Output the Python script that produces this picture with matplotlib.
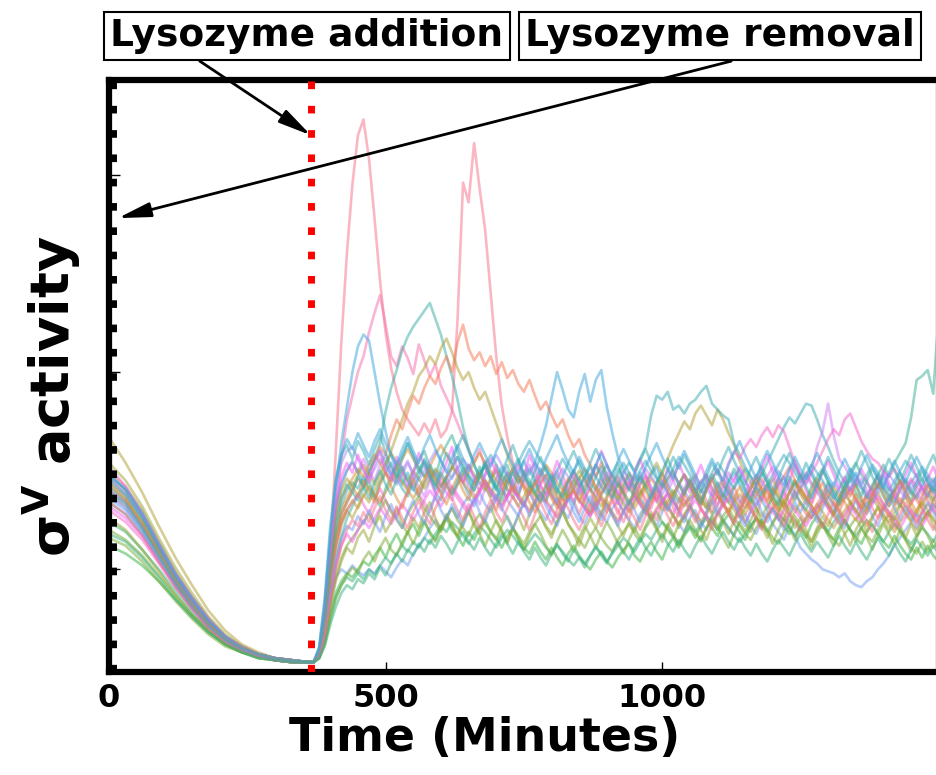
import matplotlib
matplotlib.use("Agg")
import matplotlib.pyplot as plt
import seaborn as sns

# ---------------- data ----------------
# sampling times (minutes): coarse before the lysozyme step, fine afterwards
time_pre = list(range(0, 361, 30))          # 13 samples
time_post = list(range(370, 1501, 10))      # 114 samples
time_min = time_pre + time_post

addition_time = 365
removal_time = 8

sv_01 = [88,82,71,58,45,34,24,16,11,7,5,4,3,
         3,8,25,60,110,165,210,245,270,278,
         258,228,196,170,152,140,131,126,122,118,
         124,119,126,117,121,130,176,246,236,266,
         243,222,190,158,133,117,104,97,93,88,
         95,86,84,93,87,80,89,85,78,86,
         91,82,77,86,92,84,80,75,85,90,
         84,79,75,84,89,81,77,83,86,88,
         80,77,85,90,84,79,74,83,88,82,
         77,86,91,84,80,75,84,89,83,78,
         76,83,88,81,77,85,90,84,79,84,
         88,81,76,82,87,90,83,78,84,88,
         81,77,85,89]
sv_02 = [96,88,76,61,47,35,24,16,10,7,5,4,3,
         3,7,22,48,80,106,126,138,150,158,
         170,180,189,174,158,153,163,157,149,164,
         156,148,154,143,137,131,124,117,111,104,
         111,101,96,103,93,99,90,87,96,90,
         84,93,98,89,83,90,95,100,92,87,
         82,91,96,90,85,78,86,92,97,91,
         86,81,89,95,89,84,80,89,94,98,
         91,85,79,88,93,88,83,77,86,91,
         96,90,85,91,96,89,84,90,95,99,
         94,90,86,93,87,82,87,92,86,81,
         87,91,84,80,85,90,94,87,83,88,
         92,85,81,86]
sv_03 = [92,85,73,59,45,33,23,15,10,7,5,4,3,
         3,9,28,62,92,114,132,150,163,169,
         166,150,134,120,108,100,93,99,91,87,
         94,98,89,85,93,97,102,94,88,95,
         100,92,87,96,102,97,91,100,105,98,
         104,113,123,137,150,141,131,127,140,149,
         135,146,151,132,119,107,101,95,91,99,
         93,98,102,94,89,85,93,98,92,87,
         83,91,96,90,86,94,99,93,88,84,
         91,85,80,88,93,97,90,85,91,96,
         100,93,88,94,87,83,90,95,99,92,
         88,84,92,97,91,86,82,89,94,98,
         91,87,94,99]
sv_04 = [90,84,72,58,44,33,23,15,10,7,5,4,3,
         3,6,16,34,52,66,76,82,88,92,
         98,106,114,130,142,151,161,168,173,177,
         181,185,177,169,158,148,136,122,111,103,
         97,105,95,90,98,103,93,88,96,101,
         95,89,85,93,98,92,87,83,91,96,
         90,97,102,94,89,85,92,98,91,86,
         82,89,94,99,93,88,84,91,96,90,
         86,81,89,94,88,84,92,97,91,86,
         82,89,93,86,82,90,95,89,84,80,
         88,93,87,83,79,86,92,96,89,85,
         81,88,93,87,82,90,95,89,85,92,
         96,89,85,93]
sv_05 = [84,78,68,55,42,31,21,14,9,6,4,3,3,
         3,8,24,48,66,78,84,89,85,91,
         95,87,82,91,97,102,96,91,100,105,
         110,102,97,107,113,118,110,103,98,94,
         102,95,89,85,94,99,91,86,82,90,
         95,101,94,88,83,79,87,92,97,89,
         84,80,88,94,99,104,96,91,87,83,
         78,86,91,85,80,88,93,98,92,87,
         83,90,96,100,93,89,85,80,86,91,
         97,102,96,91,86,82,89,95,89,85,
         92,97,101,94,90,86,94,99,104,98,
         94,90,98,103,97,104,109,114,127,146,
         148,151,139,180]
sv_06 = [98,90,78,63,48,36,25,16,11,7,5,4,3,
         3,7,20,42,62,76,84,90,96,92,
         99,106,112,108,118,126,121,130,138,134,
         142,148,144,152,158,150,165,174,162,156,
         160,153,158,149,155,147,151,144,140,146,
         138,131,135,128,122,126,118,112,116,108,
         103,97,104,96,91,97,89,94,87,93,
         97,90,85,91,96,100,93,88,83,89,
         94,98,91,87,82,88,92,85,81,87,
         91,96,90,86,93,97,102,95,91,87,
         83,90,94,87,83,79,86,91,85,81,
         88,92,97,91,87,83,90,95,89,85,
         81,88,92,87]
sv_07 = [117,104,89,72,56,42,29,19,12,8,5,4,3,
         3,6,18,38,58,72,80,76,82,88,
         84,90,96,102,110,118,126,134,140,148,
         152,158,154,162,167,160,152,146,150,142,
         136,140,132,124,116,108,100,94,98,92,
         87,94,98,91,86,82,89,95,89,84,
         79,86,92,97,91,86,93,99,93,88,
         94,99,104,98,106,113,119,125,121,129,
         133,128,123,131,126,119,113,105,99,94,
         89,85,92,96,89,84,80,87,92,86,
         82,78,85,90,84,80,76,83,88,82,
         78,85,89,83,79,75,82,87,81,77,
         84,88,83,79]
sv_08 = [94,87,75,60,46,34,23,15,10,7,5,4,3,
         3,7,21,46,68,82,90,94,91,97,
         91,86,94,99,104,96,91,87,95,100,
         105,98,93,89,97,102,107,99,94,90,
         98,103,97,92,88,96,101,106,98,93,
         89,97,102,96,91,87,95,100,105,99,
         94,90,98,103,97,92,99,104,100,106,
         112,128,138,136,140,131,133,129,134,136,
         140,143,134,131,128,126,114,108,102,97,
         93,98,104,110,116,122,127,124,129,134,
         133,126,118,112,105,99,94,90,95,91,
         86,93,98,92,88,84,91,96,90,86,
         93,97,91,87]
sv_09 = [90,84,72,58,44,33,22,15,10,6,4,3,3,
         3,8,26,55,78,92,100,104,99,106,
         100,95,103,108,99,94,100,105,97,92,
         87,95,100,94,89,85,93,98,92,88,
         83,91,96,101,95,90,86,93,98,103,
         97,92,88,95,100,94,89,84,92,97,
         91,87,94,99,93,89,85,80,88,93,
         98,92,87,83,90,95,89,85,81,89,
         94,98,91,87,84,91,96,101,95,90,
         86,93,97,102,96,92,100,105,97,93,
         100,112,120,134,118,106,102,97,92,96,
         90,86,93,98,92,87,83,90,95,89,
         85,92,96,89]
sv_10 = [86,80,70,56,43,32,22,14,9,6,4,3,3,
         3,6,18,36,46,50,48,52,49,47,
         50,48,52,49,46,51,55,52,58,62,
         66,71,75,70,77,81,76,83,87,82,
         89,83,79,86,91,85,81,77,84,89,
         83,79,75,82,86,80,76,83,77,73,
         80,84,78,74,81,85,79,75,71,78,
         82,76,72,79,83,77,73,69,76,80,
         74,70,77,81,75,71,67,74,78,72,
         68,75,79,73,69,65,72,67,61,58,
         55,53,50,49,48,46,48,44,42,41,
         44,46,50,53,57,62,66,70,74,78,
         75,79,83,80]
sv_11 = [80,74,65,53,41,30,20,13,9,6,4,3,3,
         3,7,20,44,62,74,80,84,88,83,
         78,85,91,85,80,76,84,89,94,88,
         84,79,87,92,97,91,86,82,78,85,
         90,95,89,84,80,87,92,86,82,89,
         93,98,92,87,83,79,86,91,85,81,
         77,84,89,93,87,83,90,95,89,85,
         81,88,92,86,82,78,85,90,95,89,
         85,91,96,101,95,104,110,106,112,116,
         112,118,122,117,123,120,112,104,98,94,
         99,104,110,116,121,118,126,129,122,115,
         110,106,104,100,97,101,95,91,96,92,
         88,93,89,85]
sv_12 = [62,58,52,44,35,26,18,12,8,5,4,3,3,
         3,5,14,28,38,44,48,46,50,54,
         52,57,61,56,63,68,62,69,73,67,
         74,69,65,72,76,70,67,62,69,65,
         71,75,69,66,61,67,71,65,61,58,
         64,59,55,61,56,52,58,62,57,53,
         50,55,59,54,51,56,60,63,57,54,
         60,64,59,55,62,66,61,67,71,66,
         72,76,71,67,74,78,73,69,65,72,
         76,71,77,81,76,72,68,75,70,66,
         73,77,72,68,65,71,75,70,66,63,
         69,73,68,64,61,67,62,58,55,61,
         56,62,57,54]
sv_13 = [70,65,57,47,37,27,19,12,8,6,4,3,3,
         3,6,16,32,46,56,62,66,70,74,
         78,73,80,85,79,75,71,78,83,87,
         81,77,73,69,76,81,75,71,67,74,
         78,73,69,65,72,77,71,67,63,69,
         73,77,72,68,74,79,73,69,65,61,
         67,71,66,62,59,65,69,73,68,64,
         71,75,79,74,70,66,73,77,72,68,
         65,71,75,70,77,81,76,72,68,65,
         71,75,70,66,63,69,73,77,72,68,
         64,70,74,69,65,62,68,72,76,71,
         67,64,70,74,78,73,69,65,61,58,
         64,59,65,60]
sv_14 = [100,92,80,64,49,36,25,16,11,7,5,4,3,
         3,8,24,52,74,86,92,96,101,97,
         103,108,104,99,95,101,106,111,106,101,
         97,102,108,113,108,103,98,94,99,104,
         109,104,100,95,91,96,101,97,92,88,
         93,98,103,99,94,90,86,91,96,101,
         97,92,88,93,98,94,89,85,81,86,
         91,96,92,87,83,88,93,98,94,89,
         85,81,86,91,95,91,86,82,78,83,
         88,92,88,84,80,85,89,94,90,86,
         82,78,83,87,92,88,84,79,75,80,
         84,89,85,81,77,82,86,82,78,74,
         79,83,80,76]
sv_15 = [96,88,76,61,47,35,24,16,10,7,5,4,3,
         3,9,30,62,82,94,100,105,99,94,
         100,105,110,104,98,103,108,114,108,102,
         97,103,98,92,96,101,107,102,97,93,
         98,103,108,103,98,94,99,104,110,115,
         110,105,100,95,100,106,101,96,92,97,
         102,97,92,88,93,98,104,99,95,100,
         105,100,96,91,96,101,107,103,98,93,
         89,94,99,104,100,95,91,96,101,97,
         92,88,93,98,103,108,104,99,94,98,
         103,99,95,90,86,91,96,101,97,93,
         98,103,99,94,90,95,100,105,101,97,
         102,98,94,99]
sv_16 = [74,69,60,50,39,28,19,13,8,6,4,3,3,
         3,5,13,26,36,42,46,44,48,45,
         50,47,52,56,53,58,62,59,64,61,
         66,63,68,72,69,74,71,67,63,68,
         72,69,65,61,66,70,67,63,60,64,
         68,65,61,58,62,59,55,52,56,53,
         57,61,58,54,58,62,66,63,59,64,
         68,65,70,74,71,67,63,68,72,69,
         73,77,74,70,75,71,67,64,68,72,
         76,73,69,74,78,75,71,67,72,76,
         80,77,73,69,74,78,74,70,67,71,
         75,72,68,64,69,73,70,66,63,67,
         71,68,64,69]
sv_17 = [92,85,74,60,46,34,23,15,10,7,5,4,3,
         3,7,22,46,64,74,80,85,81,87,
         92,88,84,89,94,98,94,90,86,91,
         96,100,96,92,97,102,98,94,90,86,
         91,95,91,87,83,88,92,88,84,80,
         85,89,85,81,77,82,86,90,86,82,
         78,83,87,83,79,75,80,84,88,84,
         80,76,81,85,81,77,73,78,82,78,
         74,79,83,87,83,79,84,88,84,80,
         76,72,77,81,85,81,77,82,78,74,
         79,83,79,75,71,76,80,84,80,76,
         72,77,81,77,73,69,74,78,74,70,
         75,79,75,71]
sv_18 = [104,95,82,66,51,38,26,17,11,7,5,4,3,
         3,8,26,56,78,90,96,92,98,103,
         98,93,99,104,109,104,99,95,100,96,
         91,96,101,97,92,88,93,98,103,98,
         94,90,95,100,96,91,87,82,87,92,
         88,84,89,93,89,85,90,95,100,95,
         91,86,82,87,92,88,83,79,84,88,
         93,89,85,80,85,90,86,82,87,91,
         87,83,78,83,88,84,80,76,81,85,
         81,77,82,86,82,78,74,79,84,80,
         76,81,86,82,78,83,88,84,80,76,
         81,86,82,78,74,79,83,79,75,80,
         84,80,76,72]
sv_19 = [98,90,78,63,48,36,25,16,11,7,5,4,3,
         3,10,32,66,90,104,110,112,106,100,
         96,101,106,102,97,93,98,104,99,95,
         100,105,110,105,100,96,101,106,102,97,
         93,98,103,108,103,99,94,90,95,100,
         104,100,96,91,96,101,97,92,88,93,
         98,103,99,95,90,95,100,96,92,97,
         101,97,93,88,93,98,94,90,85,90,
         95,91,87,92,96,92,88,84,89,94,
         98,94,90,95,100,96,92,87,92,97,
         93,89,85,90,94,90,86,91,96,92,
         88,84,89,93,98,94,90,86,91,95,
         91,87,92,96]
sv_20 = [82,76,67,54,42,31,21,14,9,6,4,3,3,
         3,6,17,36,52,62,68,64,70,75,
         71,76,81,77,73,78,83,79,75,80,
         85,90,86,82,87,92,88,84,80,85,
         89,94,90,86,82,87,91,87,83,79,
         84,88,84,80,76,81,85,89,85,81,
         77,82,86,82,78,74,79,83,87,83,
         79,75,80,84,88,84,80,76,81,85,
         81,77,73,78,82,86,82,78,74,79,
         83,87,83,79,75,80,84,80,76,72,
         77,81,85,81,77,73,78,82,78,74,
         79,83,87,83,79,75,71,76,80,76,
         72,77,81,77]
sv_21 = [102,92,78,62,47,34,24,16,10,7,5,4,3,
         3,9,27,58,84,97,104,99,108,101,
         94,103,110,99,95,107,101,92,98,109,
         103,96,88,97,104,112,100,94,103,96,
         89,98,106,99,91,86,95,103,97,108,
         101,93,87,96,105,98,90,99,93,85,
         94,102,110,103,95,88,97,91,99,106,
         98,90,84,93,101,95,104,97,89,96,
         103,95,88,82,91,99,94,102,96,87,
         93,101,108,99,92,86,95,103,97,90,
         84,92,99,105,98,91,97,88,94,101,
         95,87,93,100,94,86,92,98,104,97,
         90,96,102,95]
sv_22 = [76,70,60,49,37,27,19,12,8,6,4,3,3,
         3,6,15,31,44,54,61,58,66,70,
         64,72,77,69,74,81,73,68,76,71,
         79,84,76,70,78,73,67,75,80,72,
         68,76,82,74,69,63,71,77,70,78,
         84,77,71,66,74,80,73,68,62,70,
         76,71,79,85,77,72,67,74,69,76,
         82,75,70,64,72,78,71,77,83,76,
         70,65,73,79,74,68,75,81,74,69,
         77,72,66,73,79,85,78,71,76,70,
         64,71,77,72,79,74,68,62,70,75,
         69,76,82,75,70,77,72,66,73,67,
         74,79,72,68]
sv_23 = [99,90,77,61,46,33,23,15,10,7,5,4,3,
         3,11,36,72,96,108,113,106,115,110,
         103,111,118,109,102,97,106,114,107,99,
         106,100,93,101,109,104,112,118,110,103,
         96,104,98,91,99,106,113,105,98,92,
         100,107,101,95,89,97,104,110,103,96,
         104,111,105,98,93,101,96,90,98,105,
         111,104,97,92,100,107,101,108,102,95,
         89,97,104,98,106,112,105,99,93,101,
         107,100,94,88,96,103,109,102,96,104,
         98,92,100,107,101,95,89,97,103,110,
         104,97,91,99,106,100,94,101,108,102,
         95,102,108,101]
sv_24 = [66,62,54,44,34,25,17,11,8,5,4,3,3,
         3,5,12,24,35,42,47,51,48,55,
         59,54,61,66,60,57,64,69,63,70,
         75,68,64,71,77,72,66,73,79,74,
         68,62,69,75,70,64,71,66,60,67,
         73,68,62,57,64,70,65,59,66,72,
         67,61,68,74,69,63,58,65,71,66,
         72,78,71,66,73,68,62,69,75,70,
         64,71,77,72,66,61,68,74,69,75,
         81,74,69,63,70,76,71,65,72,67,
         61,68,73,67,62,69,75,70,64,71,
         66,60,67,73,68,63,70,65,59,66,
         72,67,61,64]
sv_25 = [94,86,73,58,44,32,22,15,10,7,5,4,3,
         3,7,22,47,68,80,86,92,87,95,
         89,84,93,99,92,86,81,90,96,88,
         94,101,95,88,83,91,97,90,85,93,
         99,92,86,80,88,95,89,97,91,84,
         79,87,93,86,81,89,96,90,84,91,
         98,91,85,79,87,93,88,82,90,97,
         90,84,92,98,91,86,80,88,94,87,
         82,90,96,89,83,78,86,92,85,91,
         97,90,84,91,87,81,89,95,88,83,
         90,96,89,84,78,86,92,87,93,86,
         80,88,94,88,82,89,95,90,84,79,
         87,93,86,82]
sv_26 = [88,81,69,55,42,30,21,14,9,6,4,3,3,
         3,6,18,38,55,66,72,70,77,73,
         80,74,69,77,83,76,71,79,85,78,
         73,81,87,80,75,83,78,72,80,86,
         79,74,82,88,81,76,70,78,84,77,
         83,89,82,77,72,80,86,79,74,81,
         87,80,75,83,78,72,79,85,80,74,
         81,87,92,85,80,86,79,74,82,77,
         71,79,85,78,84,90,83,77,72,80,
         86,79,74,81,76,70,78,84,79,85,
         80,74,81,87,82,76,71,79,85,78,
         84,77,72,80,86,81,75,82,77,71,
         78,84,79,74]
sv_27 = [89,83,71,57,43,31,21,14,9,6,4,3,3,
         3,8,24,50,72,86,93,89,97,92,
         86,94,100,93,88,96,102,95,90,97,
         104,97,91,99,94,88,95,101,96,90,
         97,103,96,91,85,93,99,94,100,95,
         89,84,92,98,91,86,94,100,95,89,
         96,103,97,91,86,94,89,83,91,97,
         92,86,94,100,106,99,93,88,95,90,
         84,92,98,93,87,95,101,96,90,85,
         93,99,94,88,83,91,97,92,98,92,
         86,94,100,95,89,84,92,98,93,87,
         95,101,96,90,85,92,99,93,88,94,
         100,94,89,96]
sv_28 = [84,78,67,54,41,30,20,13,9,6,4,3,3,
         3,6,16,34,50,62,70,75,72,79,
         74,81,87,80,75,82,76,71,79,85,
         78,73,81,87,94,86,80,75,83,77,
         71,79,85,79,74,81,87,82,76,70,
         78,84,78,73,80,86,81,75,70,77,
         83,78,72,79,85,80,74,81,76,70,
         77,83,89,83,77,72,79,85,80,74,
         81,76,70,78,84,78,73,80,86,81,
         75,70,77,83,78,72,79,74,69,76,
         82,77,71,78,84,79,73,80,86,80,
         74,69,76,82,77,71,78,84,79,73,
         80,75,70,77]
sv_29 = [97,91,79,63,48,35,24,16,10,7,5,4,3,
         3,10,33,68,94,108,116,111,119,113,
         107,115,121,114,108,103,111,117,110,104,
         112,118,111,105,99,107,113,106,100,108,
         114,108,102,110,116,109,103,97,105,111,
         104,98,106,112,118,110,104,99,107,101,
         95,103,109,103,97,105,111,105,99,94,
         102,108,114,107,101,96,104,110,104,98,
         92,100,106,100,95,103,109,115,108,102,
         96,104,110,104,98,93,101,107,101,96,
         103,109,103,97,92,100,106,100,95,102,
         108,102,96,91,99,105,99,94,101,107,
         101,95,90,98]
sv_30 = [68,64,56,46,35,26,18,12,8,5,4,3,3,
         3,5,11,22,31,38,42,40,45,43,
         48,45,51,47,53,58,54,60,57,63,
         59,65,61,67,63,58,64,69,64,60,
         66,61,57,63,68,63,58,64,59,55,
         61,56,52,58,63,58,54,60,56,51,
         57,62,57,53,59,64,59,55,61,66,
         61,57,63,68,63,59,65,60,56,62,
         67,62,58,64,69,64,60,66,61,57,
         63,58,54,60,65,61,57,63,68,63,
         59,64,60,56,62,67,62,58,64,59,
         55,61,66,61,57,63,58,54,60,65,
         61,57,62,58]

traces = [sv_01, sv_02, sv_03, sv_04, sv_05, sv_06, sv_07, sv_08, sv_09, sv_10,
          sv_11, sv_12, sv_13, sv_14, sv_15, sv_16, sv_17, sv_18, sv_19, sv_20,
          sv_21, sv_22, sv_23, sv_24, sv_25, sv_26, sv_27, sv_28, sv_29, sv_30]
# palette index (husl, 20 hues) for each trace
trace_hue = [0, 19, 13, 10, 9, 1, 4, 11, 16, 14, 18, 7, 6, 2, 12, 8, 3, 5, 15, 17,
             17, 5, 11, 6, 2, 14, 10, 0, 13, 8]

x_ticks = [0, 500, 1000]
y_ticks = [50, 150, 250]

# ---------------- figure ----------------
W, H = 937, 775
fig = plt.figure(figsize=(W / 100, H / 100), dpi=100)
ax = fig.add_axes([109 / W, (H - 672) / H, (936 - 109) / W, (672 - 80) / H])

pal = sns.color_palette("husl", 20)
for tr, hi in zip(traces, trace_hue):
    ax.plot(time_min, tr, color=pal[hi], alpha=0.5, lw=1.9, zorder=2)

dot_style = (0, (1.1, 2.4))
ax.axvline(addition_time, color="red", lw=5, ls=dot_style, zorder=4)
ax.axvline(removal_time, color="black", lw=5, ls=dot_style, zorder=4)

ax.set_xlim(0, 1495)
ax.set_ylim(-2, 298)
ax.set_xticks(x_ticks)
ax.set_yticks(y_ticks)
ax.set_yticklabels([])
ax.set_xticklabels([str(t) for t in x_ticks], fontsize=23, fontweight="bold")
ax.tick_params(axis="both", direction="in", length=7, width=1, pad=8)
ax.tick_params(axis="y", length=8)

for s in ["top", "left", "bottom"]:
    ax.spines[s].set_linewidth(4.5)
    ax.spines[s].set_color("black")
ax.spines["right"].set_linewidth(1)
ax.spines["right"].set_color("#888888")

ax.set_xlabel("Time (Minutes)", fontsize=33, fontweight="bold")
ax.xaxis.set_label_coords((485 - 109) / 827, -0.074)
ax.set_ylabel(r"σ$^{\mathbf{V}}$ activity", fontsize=39, fontweight="bold")
ax.yaxis.set_label_coords(-0.031, 0.465)

box = dict(boxstyle="square,pad=0.17", fc="white", ec="black", lw=1.5)
arrow_kw = dict(arrowstyle="-|>,head_length=0.9,head_width=0.2", color="black",
                lw=2, shrinkA=0, shrinkB=0, mutation_scale=22)
ax.annotate("Lysozyme addition", xy=(addition_time, 270), xycoords="data",
            xytext=(307 / W, 1 - 36 / H), textcoords="figure fraction",
            ha="center", va="center", fontsize=27, fontweight="bold", bbox=box,
            arrowprops=dict(relpos=(0.2, 0.0), **arrow_kw), zorder=6,
            annotation_clip=False)
ax.annotate("Lysozyme removal", xy=(removal_time + 8, 228), xycoords="data",
            xytext=(720 / W, 1 - 36 / H), textcoords="figure fraction",
            ha="center", va="center", fontsize=27, fontweight="bold", bbox=box,
            arrowprops=dict(relpos=(0.6, 0.0), **arrow_kw), zorder=6,
            annotation_clip=False)

fig.savefig("out.png", dpi=100)
